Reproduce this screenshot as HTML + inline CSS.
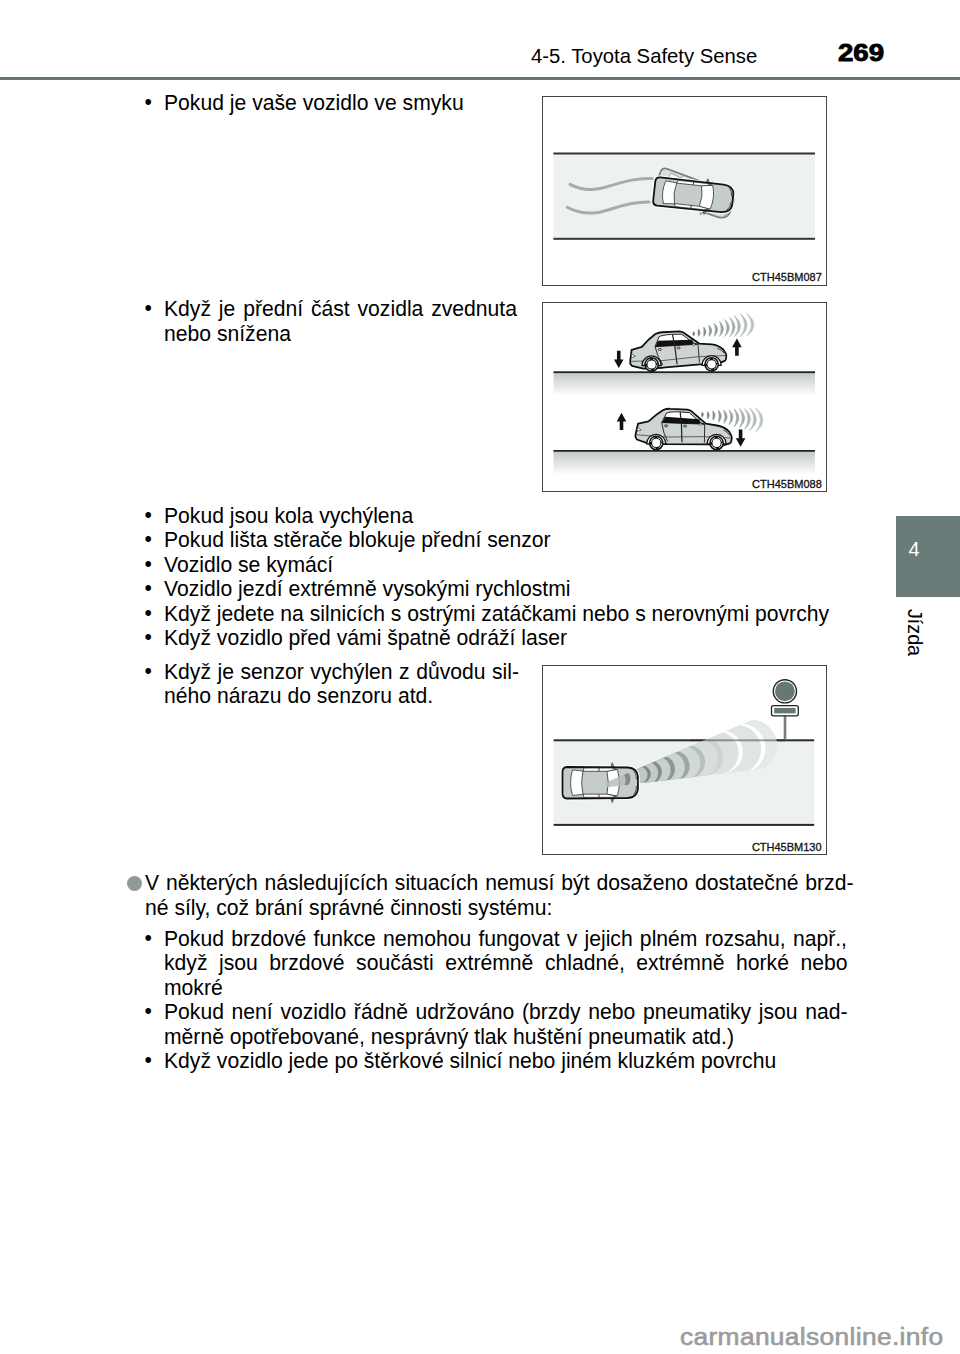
<!DOCTYPE html>
<html><head><meta charset="utf-8">
<style>
html,body{margin:0;padding:0;background:#fff;}
body{width:960px;height:1354px;position:relative;overflow:hidden;font-family:"Liberation Sans",sans-serif;color:#000;}
.a{position:absolute;}
.t{position:absolute;font-size:21.15px;line-height:24.6px;white-space:nowrap;}
.j{position:absolute;font-size:21.15px;line-height:24.6px;text-align:justify;text-align-last:justify;}
.b{position:absolute;font-size:21.15px;line-height:24.6px;transform:translate(-0.6px,-0.7px);}
.box{position:absolute;border:1.5px solid #444;box-sizing:border-box;background:#fff;}
.lbl{position:absolute;font-size:11.5px;line-height:12px;white-space:nowrap;color:#111;}
</style></head>
<body>
<!-- header -->
<div class="a" style="left:0;top:77px;width:960px;height:3px;background:#657573;"></div>
<div class="t" id="hdr" style="left:531px;top:43.6px;font-size:20.3px;">4-5. Toyota Safety Sense</div>
<div class="t" id="pg" style="left:837.5px;top:40.7px;font-size:24px;font-weight:bold;transform-origin:0 0;transform:scaleX(1.15);-webkit-text-stroke:0.9px #000;">269</div>

<!-- side tab -->
<div class="a" style="left:896px;top:515.5px;width:64px;height:81.5px;background:#6b7b79;"></div>
<div class="t" style="left:908.6px;top:537px;font-size:20px;line-height:24px;color:#fff;">4</div>
<div class="a" id="jizda" style="left:904.5px;top:609px;width:20px;height:52px;">
  <div style="position:absolute;left:0;top:0;transform-origin:0 0;transform:translate(20px,0) rotate(90deg);font-size:19.7px;line-height:20px;white-space:nowrap;">Jízda</div>
</div>

<!-- text blocks -->
<div class="b" style="left:145px;top:91px;">•</div>
<div class="t" style="left:164px;top:91px;">Pokud je vaše vozidlo ve smyku</div>

<div class="b" style="left:145px;top:297px;">•</div>
<div class="j" style="left:164px;top:297px;width:353px;">Když je přední část vozidla zvednuta</div>
<div class="t" style="left:164px;top:321.5px;">nebo snížena</div>

<div class="b" id="l1" style="left:145px;top:503.5px;">•<br>•<br>•<br>•<br>•<br>•</div>
<div class="t" style="left:164px;top:503.5px;">Pokud jsou kola vychýlena<br>Pokud lišta stěrače blokuje přední senzor<br>Vozidlo se kymácí<br>Vozidlo jezdí extrémně vysokými rychlostmi<br>Když jedete na silnicích s ostrými zatáčkami nebo s nerovnými povrchy<br>Když vozidlo před vámi špatně odráží laser</div>

<div class="b" style="left:145px;top:659.8px;">•</div>
<div class="j" style="left:164px;top:659.8px;width:355px;">Když je senzor vychýlen z důvodu sil-</div>
<div class="t" style="left:164px;top:684.3px;">ného nárazu do senzoru atd.</div>

<div class="a" style="left:126.5px;top:875.5px;width:15px;height:15px;border-radius:50%;background:#8e9a98;"></div>
<div class="j" style="left:145px;top:871px;width:708.5px;">V některých následujících situacích nemusí být dosaženo dostatečné brzd-</div>
<div class="t" style="left:145px;top:895.5px;">né síly, což brání správné činnosti systému:</div>

<div class="b" style="left:145px;top:926.7px;">•</div>
<div class="j" style="left:164px;top:926.7px;width:683px;">Pokud brzdové funkce nemohou fungovat v jejich plném rozsahu, např.,</div>
<div class="j" style="left:164px;top:951.2px;width:683.5px;">když jsou brzdové součásti extrémně chladné, extrémně horké nebo</div>
<div class="t" style="left:164px;top:975.7px;">mokré</div>
<div class="b" style="left:145px;top:1000.2px;">•</div>
<div class="j" style="left:164px;top:1000.2px;width:683.5px;">Pokud není vozidlo řádně udržováno (brzdy nebo pneumatiky jsou nad-</div>
<div class="t" style="left:164px;top:1024.7px;">měrně opotřebované, nesprávný tlak huštění pneumatik atd.)</div>
<div class="b" style="left:145px;top:1049.2px;">•</div>
<div class="t" style="left:164px;top:1049.2px;">Když vozidlo jede po štěrkové silnicí nebo jiném kluzkém povrchu</div>

<!-- figure boxes -->
<div class="box" id="fig1" style="left:542px;top:95.5px;width:285px;height:190px;"></div>
<svg class="a" style="left:542px;top:95.5px;" width="285" height="190" viewBox="542 95.5 285 190">
  <defs>
    <g id="cartop">
      <path d="M-35,-14.2 L29,-13.8 Q38.5,-13.2 39.5,-6 L39.5,6 Q38.5,13.2 29,13.8 L-35,14.2 Q-39.5,14 -39.5,9.5 L-39.5,-9.5 Q-39.5,-14 -35,-14.2 Z" fill="none" stroke="#fff" stroke-width="3.6"/>
      <path d="M11,-13.5 L12.5,-18 L15,-13.5 Z M11,13.5 L12.5,18 L15,13.5 Z" fill="#888" stroke="#333" stroke-width="0.6"/>
      <path d="M-35,-14.2 L29,-13.8 Q38.5,-13.2 39.5,-6 L39.5,6 Q38.5,13.2 29,13.8 L-35,14.2 Q-39.5,14 -39.5,9.5 L-39.5,-9.5 Q-39.5,-14 -35,-14.2 Z" fill="#c6cccb" stroke="#111" stroke-width="1.8"/>
      <path d="M-29,-11.5 Q-33,0 -29,11.5 L-18,10.5 Q-21,0 -18,-10.5 Z" fill="#fff" stroke="#222" stroke-width="0.7"/>
      <path d="M7,-10.5 Q10,0 7,10.5 L18,12 Q22,0 18,-12 Z" fill="#fff" stroke="#222" stroke-width="0.7"/>
      <path d="M-17,-13.2 L12,-13.2 L17,-12 L7,-10.3 L-18,-10.3 Z" fill="#fff" stroke="#222" stroke-width="0.7"/>
      <path d="M-17,13.2 L12,13.2 L17,12 L7,10.3 L-18,10.3 Z" fill="#fff" stroke="#222" stroke-width="0.7"/>
      <path d="M-1,-13.2 L-1.5,-10.3 M-1,13.2 L-1.5,10.3" stroke="#222" stroke-width="0.8"/>
      <path d="M35,-11 Q38,-8 38,-3 M35,11 Q38,8 38,3" fill="none" stroke="#222" stroke-width="0.7"/>
    </g>
  </defs>
  <rect x="553.4" y="153" width="261.6" height="85" fill="#eef1f2"/>
  <rect x="553.4" y="152" width="261.6" height="2" fill="#333"/>
  <rect x="553.4" y="237.3" width="261.6" height="2" fill="#333"/>
  <path d="M570,183.8 C580,189 590,190 600,188 C615,185 630,177 652,178" fill="none" stroke="#a3aeab" stroke-width="3" stroke-linecap="round"/>
  <path d="M567.2,206.7 C577,212 588,213.5 598,212 C613,209 628,201 649,201.6" fill="none" stroke="#a3aeab" stroke-width="3" stroke-linecap="round"/>
  <g transform="translate(694.5,193.5) rotate(20)" opacity="0.5">
    <use href="#cartop" />
  </g>
  <g transform="translate(693.5,194.8) rotate(6.2)">
    <use href="#cartop" />
  </g>
  <text x="821.8" y="280.9" text-anchor="end" font-family="Liberation Sans" font-size="11" fill="#111" stroke="#111" stroke-width="0.3">CTH45BM087</text>
</svg>
<div class="box" id="fig2" style="left:542px;top:302px;width:285px;height:190px;"></div>
<!--FIG2-->
<svg class="a" style="left:542px;top:302px;" width="285" height="190" viewBox="542 302 285 190">
  <defs>
    <linearGradient id="roadg" x1="0" y1="0" x2="0" y2="1">
      <stop offset="0" stop-color="#c3c9c8"/>
      <stop offset="1" stop-color="#ffffff"/>
    </linearGradient>
    <g id="wheel">
      <path d="M-9.6,1 A9.6,9.6 0 0 1 9.6,1 Z" fill="#fff" stroke="#111" stroke-width="1.3"/>
      <circle r="7.4" fill="#111"/>
      <circle r="5.6" fill="none" stroke="#fff" stroke-width="0.8" stroke-dasharray="6 3"/>
      <circle r="4.1" fill="#fff"/>
    </g>
    <g id="carside">
      <path d="M-49.7,-15.7 L-39.4,-18.6 Q-33,-26 -25.7,-31.2 Q-22,-33 -18.8,-32.9 L-1.6,-33.5 Q2,-33 3,-31.8 L17.9,-20.9 L30.5,-19.8 Q37,-19 41.9,-14.6 Q45,-10 44.8,-8.9 Q45,-4 43.1,-3.1 L37.4,-0.8 L21.3,-0.3 L-18.8,2.6 L-38.3,3.2 L-49.7,0.3 Q-52,-2 -51.4,-4.3 Z" fill="#cdd4d3" stroke="#111" stroke-width="1.8" stroke-linejoin="round"/>
      <path d="M-26.2,-18.6 L-22.2,-28.3 Q-20,-30 -9.6,-30.6 L0.7,-30.6 L12.2,-21.5 L16.7,-20.3 Z" fill="#fff" stroke="#111" stroke-width="0.9"/>
      <path d="M-26,-18.4 L-23.2,-24.5 L11,-24.8 L12.6,-21.3 L16.7,-20.3 Z" fill="#111"/>
      <path d="M-8.6,-30.4 L-6.4,-18.2 L-4.5,-0.6" fill="none" stroke="#222" stroke-width="1.2"/>
      <path d="M-26.2,-18.4 Q-24,-8 -18.8,-0.2 M16.7,-20.3 L17.9,-2" fill="none" stroke="#222" stroke-width="0.9"/>
      <path d="M-50.5,-4.3 L-18.8,-4.6 L16.7,-7.8 L44,-8.5" fill="none" stroke="#333" stroke-width="0.7"/>
      <ellipse cx="-21.6" cy="-15.7" rx="1.6" ry="1" fill="none" stroke="#222" stroke-width="0.8"/>
      <ellipse cx="-2.7" cy="-16.9" rx="1.6" ry="1" fill="none" stroke="#222" stroke-width="0.8"/>
      <path d="M-50,-12 L-46,-9.5 L-50,-8 Z" fill="#fff" stroke="#222" stroke-width="0.6"/>
      <path d="M36,-16 Q41,-14 42.5,-11" fill="none" stroke="#222" stroke-width="0.8"/>
      <circle cx="12.5" cy="-19.8" r="1.2" fill="#ddd" stroke="#333" stroke-width="0.5"/>
    </g>
    <path id="arrowup" d="M0,-8.6 L4.8,0 L1.8,0 L1.8,8.6 L-1.8,8.6 L-1.8,0 L-4.8,0 Z" fill="#111"/>
  </defs>
  <rect x="553.5" y="373" width="261.5" height="23" fill="url(#roadg)"/>
  <rect x="553.5" y="371.3" width="261.5" height="1.8" fill="#222"/>
  <rect x="553.5" y="451.7" width="261.5" height="23" fill="url(#roadg)"/>
  <rect x="553.5" y="450" width="261.5" height="1.8" fill="#222"/>
  <path d="M693.7,331.6 Q695.7,333.8 693.7,335.9 Q691.7,333.8 693.7,331.6Z" fill="#748381" stroke="#748381" stroke-width="0.6" stroke-linejoin="round"/>
  <path d="M698.4,329.1 Q701.8,332.7 698.4,336.4 Q697.6,332.7 698.4,329.1Z" fill="#7b8987" stroke="#7b8987" stroke-width="0.6" stroke-linejoin="round"/>
  <path d="M703.8,327.1 Q708.1,331.8 703.8,336.4 Q703.9,331.8 703.8,327.1Z" fill="#828f8d" stroke="#828f8d" stroke-width="0.6" stroke-linejoin="round"/>
  <path d="M709.0,325.3 Q714.4,330.9 709.0,336.4 Q710.0,330.9 709.0,325.3Z" fill="#899694" stroke="#899694" stroke-width="0.6" stroke-linejoin="round"/>
  <path d="M714.3,323.2 Q720.9,329.8 714.3,336.4 Q716.4,329.8 714.3,323.2Z" fill="#909c9a" stroke="#909c9a" stroke-width="0.6" stroke-linejoin="round"/>
  <path d="M719.5,321.3 Q727.4,328.9 719.5,336.4 Q722.8,328.9 719.5,321.3Z" fill="#97a3a1" stroke="#97a3a1" stroke-width="0.6" stroke-linejoin="round"/>
  <path d="M724.7,319.5 Q733.9,328.0 724.7,336.5 Q729.2,328.0 724.7,319.5Z" fill="#9ea9a7" stroke="#9ea9a7" stroke-width="0.6" stroke-linejoin="round"/>
  <path d="M729.8,317.6 Q740.4,327.1 729.8,336.7 Q735.6,327.1 729.8,317.6Z" fill="#a5afad" stroke="#a5afad" stroke-width="0.6" stroke-linejoin="round"/>
  <path d="M734.5,315.7 Q746.5,326.2 734.5,336.7 Q741.6,326.2 734.5,315.7Z" fill="#acb6b4" stroke="#acb6b4" stroke-width="0.6" stroke-linejoin="round"/>
  <path d="M740.3,313.6 Q754.1,325.1 740.3,336.7 Q749.0,325.1 740.3,313.6Z" fill="#b3bcba" stroke="#b3bcba" stroke-width="0.6" stroke-linejoin="round"/>
  <path d="M746.8,313.3 Q761.0,324.9 746.8,336.4 Q755.8,324.9 746.8,313.3Z" fill="#bbc3c1" stroke="#bbc3c1" stroke-width="0.6" stroke-linejoin="round"/>
  <path d="M702.3,412.0 Q704.6,414.6 702.3,417.2 Q700.6,414.6 702.3,412.0Z" fill="#748381" stroke="#748381" stroke-width="0.6" stroke-linejoin="round"/>
  <path d="M707.6,411.6 Q711.0,415.2 707.6,418.9 Q706.8,415.2 707.6,411.6Z" fill="#7b8987" stroke="#7b8987" stroke-width="0.6" stroke-linejoin="round"/>
  <path d="M712.9,410.7 Q717.3,415.4 712.9,420.1 Q713.1,415.4 712.9,410.7Z" fill="#828f8d" stroke="#828f8d" stroke-width="0.6" stroke-linejoin="round"/>
  <path d="M718.5,410.3 Q724.3,416.2 718.5,422.2 Q719.9,416.2 718.5,410.3Z" fill="#899694" stroke="#899694" stroke-width="0.6" stroke-linejoin="round"/>
  <path d="M723.8,409.9 Q730.6,416.7 723.8,423.4 Q726.1,416.7 723.8,409.9Z" fill="#909c9a" stroke="#909c9a" stroke-width="0.6" stroke-linejoin="round"/>
  <path d="M729.1,409.9 Q736.9,417.3 729.1,424.7 Q732.3,417.3 729.1,409.9Z" fill="#97a3a1" stroke="#97a3a1" stroke-width="0.6" stroke-linejoin="round"/>
  <path d="M734.2,409.1 Q743.6,417.9 734.2,426.7 Q738.9,417.9 734.2,409.1Z" fill="#9ea9a7" stroke="#9ea9a7" stroke-width="0.6" stroke-linejoin="round"/>
  <path d="M739.3,408.6 Q750.1,418.3 739.3,428.0 Q745.3,418.3 739.3,408.6Z" fill="#a5afad" stroke="#a5afad" stroke-width="0.6" stroke-linejoin="round"/>
  <path d="M744.5,408.6 Q756.5,419.0 744.5,429.3 Q751.5,419.0 744.5,408.6Z" fill="#acb6b4" stroke="#acb6b4" stroke-width="0.6" stroke-linejoin="round"/>
  <path d="M749.5,407.8 Q763.3,419.4 749.5,430.9 Q758.2,419.4 749.5,407.8Z" fill="#b3bcba" stroke="#b3bcba" stroke-width="0.6" stroke-linejoin="round"/>
  <path d="M755.5,407.8 Q770.5,420.0 755.5,432.2 Q765.3,420.0 755.5,407.8Z" fill="#bbc3c1" stroke="#bbc3c1" stroke-width="0.6" stroke-linejoin="round"/>
  <g transform="translate(681.6,364.8) rotate(-1)"><use href="#carside"/></g>
  <use href="#wheel" x="651.6" y="364.5"/><use href="#wheel" x="711.6" y="364.3"/>
  <g transform="translate(686.4,443.1) rotate(4.5)"><use href="#carside"/></g>
  <use href="#wheel" x="656.2" y="442.9"/><use href="#wheel" x="716.6" y="442.9"/>
  <use href="#arrowup" transform="translate(618.75,359.4) rotate(180)"/>
  <use href="#arrowup" transform="translate(736.9,347.2)"/>
  <use href="#arrowup" transform="translate(621.5,421.4)"/>
  <use href="#arrowup" transform="translate(740.6,438.2) rotate(180)"/>
  <text x="821.8" y="487.5" text-anchor="end" font-family="Liberation Sans" font-size="11" fill="#111" stroke="#111" stroke-width="0.3">CTH45BM088</text>
</svg>

<!--/FIG2-->
<div class="box" id="fig3" style="left:542px;top:664.7px;width:285px;height:190.3px;"></div>
<!--FIG3-->
<svg class="a" style="left:542px;top:664.7px;" width="285" height="190" viewBox="542 664.7 285 190">
  <defs>
    <linearGradient id="beamg" gradientUnits="userSpaceOnUse" x1="622" y1="0" x2="780" y2="0">
      <stop offset="0" stop-color="#98a4a2"/>
      <stop offset="0.45" stop-color="#c2cac8"/>
      <stop offset="1" stop-color="#eef1f1"/>
    </linearGradient>
    <linearGradient id="beamg2" gradientUnits="userSpaceOnUse" x1="622" y1="0" x2="780" y2="0">
      <stop offset="0" stop-color="#6f7e7c"/>
      <stop offset="0.5" stop-color="#a9b3b1"/>
      <stop offset="1" stop-color="#e3e8e7"/>
    </linearGradient>
    <clipPath id="wedge"><path d="M590,789 L800,699 L800,764.3 L590,789 Z"/></clipPath>
  </defs>
  <rect x="553.6" y="741" width="260.6" height="83" fill="#eef1f2"/>
  <rect x="553.6" y="739" width="260.6" height="2" fill="#2a2a2a"/>
  <rect x="553.6" y="823.6" width="260.6" height="2" fill="#2a2a2a"/>
  <rect x="783.7" y="715" width="2.6" height="24.5" fill="#7a7a7a"/>
  <circle cx="784.9" cy="691" r="11.6" fill="#fff" stroke="#222" stroke-width="1.4"/>
  <circle cx="784.9" cy="691" r="9.9" fill="#667776"/>
  <rect x="771.5" y="705.3" width="26.8" height="10.2" rx="2" fill="#fff" stroke="#222" stroke-width="1.3"/>
  <rect x="774.2" y="707.6" width="21.4" height="5.5" fill="#667776"/>
    <g clip-path="url(#wedge)">
  <circle cx="751.0" cy="745.5" r="26.0" fill="#e5e9e9"/>
  <circle cx="750.9" cy="745.5" r="26.0" fill="#e5e9e9"/>
  <circle cx="740.8" cy="748.0" r="24.7" fill="#ffffff"/>
  <circle cx="736.4" cy="749.1" r="24.7" fill="#e0e5e4"/>
  <circle cx="721.6" cy="751.6" r="21.4" fill="#fdfdfd"/>
  <circle cx="717.2" cy="752.7" r="21.4" fill="#dce1e1"/>
  <circle cx="703.9" cy="756.8" r="19.1" fill="#ccd3d2"/>
  <circle cx="699.1" cy="758.1" r="19.1" fill="#d8dedd"/>
  <circle cx="688.3" cy="761.6" r="16.8" fill="#b6bfbd"/>
  <circle cx="683.5" cy="762.9" r="16.8" fill="#d2d8d7"/>
  <circle cx="674.5" cy="765.7" r="15.1" fill="#9ca7a5"/>
  <circle cx="669.7" cy="767.0" r="15.1" fill="#ccd3d2"/>
  <circle cx="661.6" cy="768.7" r="13.4" fill="#8b9896"/>
  <circle cx="657.2" cy="769.8" r="13.4" fill="#c8d0ce"/>
  <circle cx="650.3" cy="771.8" r="11.5" fill="#83908e"/>
  <circle cx="646.6" cy="772.8" r="11.5" fill="#c3cbca"/>
  <circle cx="642.1" cy="773.8" r="8.7" fill="#7b8987"/>
  <circle cx="638.9" cy="774.6" r="8.7" fill="#bec7c5"/>
  </g>
  <rect x="690" y="739" width="95" height="2" fill="#2a2a2a" opacity="0.45"/>
  <g transform="translate(600.2,782.4) scale(0.955,1.11)"><use href="#cartop"/></g>
  <g clip-path="url(#wedge)"><g opacity="0.8"><circle cx="620.0" cy="778.5" r="10.5" fill="#6f7d7b"/>
  <circle cx="615.2" cy="779.8" r="10.5" fill="#b3bdbb"/></g></g>
  <text x="821.6" y="850.5" text-anchor="end" font-family="Liberation Sans" font-size="11" fill="#111" stroke="#111" stroke-width="0.3">CTH45BM130</text>
</svg>

<!--/FIG3-->

<!-- watermark -->
<div class="t" style="left:680px;top:1325.7px;font-size:23px;line-height:23px;letter-spacing:0.3px;transform-origin:0 0;transform:scaleX(1.145);-webkit-text-stroke:0.6px #9c9c9c;color:#9c9c9c;">carmanualsonline.info</div>
</body></html>
